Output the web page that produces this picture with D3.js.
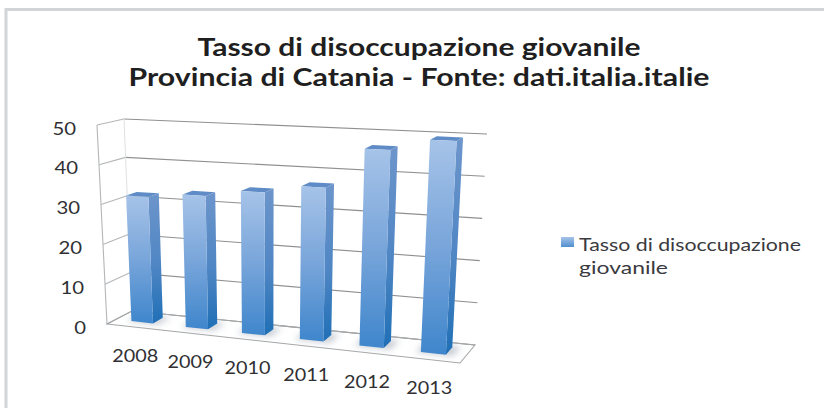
<!DOCTYPE html>
<html>
<head>
<meta charset="utf-8">
<script src="https://cdnjs.cloudflare.com/ajax/libs/d3/7.8.5/d3.min.js"></script>
<style>
html,body{margin:0;padding:0;background:#fff;overflow:hidden}
text{font-family:Lato,"Open Sans",sans-serif}
</style>
</head>
<body>
<svg id="chart" width="824" height="408"></svg>
<script>
// Youth unemployment rate, province of Catania
const years = ["2008","2009","2010","2011","2012","2013"];
const rates = [31.8,33,34.8,36.9,46.7,49.5];
const valueTicks = [0,10,20,30,40,50];
const titleLines = ["Tasso di disoccupazione giovanile","Provincia di Catania - Fonte: dati.italia.italie"];
const legendLines = ["Tasso di disoccupazione","giovanile"];

const svg = d3.select("#chart");

// The four vertical edges of the 3D plot box, each a value -> pixel scale
const edge = (x0,x1,y0,y1) => ({
  x: d3.scaleLinear().domain([0,50]).range([x0,x1]),
  y: d3.scaleLinear().domain([0,50]).range([y0,y1])
});
const frontLeft  = edge(107,97,324,125);
const backLeft   = edge(132,124,311,119);
const backRight  = edge(475,487,345,134);
const frontRight = edge(460,472,363,143);

// u runs along the categories, d runs from front to back, v is the value.
// Categories spread out toward the right, as they come nearer to the viewer.
function project(u,d,v){
  const mix = (a,b,t) => a+(b-a)*t;
  const w = u-0.09*u*(1-u);
  const fx = mix(frontLeft.x(v),frontRight.x(v),w), fy = mix(frontLeft.y(v),frontRight.y(v),w);
  const bx = mix(backLeft.x(v),backRight.x(v),w),  by = mix(backLeft.y(v),backRight.y(v),w);
  return [mix(fx,bx,d),mix(fy,by,d)];
}
const band = d3.scaleBand().domain(years).range([-0.001,0.999]).paddingInner(0.6).paddingOuter(0.3);
const depthFront = 0.35, depthBack = 0.76;
const line = d3.line();
const poly = pts => line(pts)+"Z";

// Gradients and the soft floor shadow
const defs = svg.append("defs");
function gradient(id,stops,x2,y2){
  const g = defs.append("linearGradient").attr("id",id)
    .attr("x1",0).attr("y1",0).attr("x2",x2).attr("y2",y2);
  stops.forEach(([o,c]) => g.append("stop").attr("offset",o).attr("stop-color",c));
}
gradient("frontFill",[[0,"#a6c3e8"],[0.5,"#78a5da"],[1,"#3f86cc"]],0,1);
gradient("sideFill",[[0,"#6d95cb"],[0.55,"#4f86c4"],[1,"#1f6fb6"]],0,1);
gradient("legendFill",[[0,"#a6c3e8"],[1,"#4f8fd0"]],0,1);
defs.append("filter").attr("id","floorShadow")
  .attr("x","-50%").attr("y","-50%").attr("width","200%").attr("height","200%")
  .append("feGaussianBlur").attr("stdDeviation",3);

// Frame of the chart area
svg.append("path").attr("d",line([[6,408],[6,9.5],[824,9.5]]))
  .attr("fill","none").attr("stroke","#d2d4d8").attr("stroke-width",3);

// Title
const titleWidths = [443,581];
svg.append("g").selectAll("text").data(titleLines).join("text")
  .attr("x",419).attr("y",(d,i)=>55.5+i*30.5)
  .attr("text-anchor","middle").attr("font-size",25).attr("font-weight",700)
  .attr("textLength",(d,i)=>titleWidths[i]).attr("lengthAdjust","spacingAndGlyphs")
  .attr("fill","#1f1f22").text(d=>d);

// Walls and floor
const grid = svg.append("g").attr("fill","none");
grid.selectAll("path.back").data(valueTicks).join("path").attr("class","back")
  .attr("d",v=>line([project(0,1,v),project(1,1,v)]))
  .attr("stroke","#8e9092").attr("stroke-width",1.1);
grid.selectAll("path.side").data(valueTicks).join("path").attr("class","side")
  .attr("d",v=>line([project(0,0,v),project(0,1,v)]))
  .attr("stroke","#b4b6b8").attr("stroke-width",1.1);
grid.append("path").attr("d",line([project(0,0,0),project(0,0,50)]))
  .attr("stroke","#b4b6b8").attr("stroke-width",1.1);
grid.append("path").attr("d",line([project(0,1,0),project(0,1,50)]))
  .attr("stroke","#dfe0e1").attr("stroke-width",1);
grid.append("path").attr("d",poly([project(0,0,0),project(1,0,0),project(1,1,0),project(0,1,0)]))
  .attr("stroke","#a4a6a8").attr("stroke-width",1.1);

// Bars: shadow, top, side, front
const bars = svg.append("g").selectAll("g").data(years.map((y,i)=>({y,v:rates[i]}))).join("g");
const corners = d => ({u0:band(d.y),u1:band(d.y)+band.bandwidth()});
bars.append("path")
  .attr("d",d=>{const {u0,u1}=corners(d);return poly([
    project(u0-0.012,depthFront-0.05,0),project(u1+0.02,depthFront-0.05,0),
    project(u1+0.02,depthBack+0.08,0),project(u0-0.012,depthBack+0.08,0)]);})
  .attr("fill","#c9ced4").attr("filter","url(#floorShadow)");
bars.append("path")
  .attr("d",d=>{const {u0,u1}=corners(d);return poly([
    project(u0,depthFront,d.v),project(u1,depthFront,d.v),project(u1,depthBack,d.v),project(u0,depthBack,d.v)]);})
  .attr("fill","#5f8cc6");
bars.append("path")
  .attr("d",d=>{const {u1}=corners(d);return poly([
    project(u1,depthFront,d.v),project(u1,depthBack,d.v),project(u1,depthBack,0),project(u1,depthFront,0)]);})
  .attr("fill","url(#sideFill)");
bars.append("path")
  .attr("d",d=>{const {u0,u1}=corners(d);return poly([
    project(u0,depthFront,d.v),project(u1,depthFront,d.v),project(u1,depthFront,0),project(u0,depthFront,0)]);})
  .attr("fill","url(#frontFill)");

// Value axis labels
svg.append("g").selectAll("text").data(valueTicks).join("text")
  .attr("x",v=>frontLeft.x(v)-21).attr("y",v=>frontLeft.y(v)+9.5)
  .attr("text-anchor","end").attr("font-size",17).attr("fill","#303033")
  .attr("textLength",d=>String(d).length*11.8).attr("lengthAdjust","spacingAndGlyphs")
  .text(d=>d);

// Category labels step down along the front edge of the floor
svg.append("g").selectAll("text").data(years).join("text")
  .attr("x",y=>project(band(y)+band.bandwidth()/2,0,0)[0]+1.5)
  .attr("y",y=>project(band(y)+band.bandwidth()/2,0,0)[1]+35)
  .attr("text-anchor","middle").attr("font-size",17).attr("fill","#303033")
  .attr("textLength",46).attr("lengthAdjust","spacingAndGlyphs")
  .text(d=>d);

// Legend
const legendWidths = [222,89];
svg.append("rect").attr("x",561).attr("y",237).attr("width",13).attr("height",10).attr("fill","url(#legendFill)");
svg.append("g").selectAll("text").data(legendLines).join("text")
  .attr("x",579).attr("y",(d,i)=>251+i*23)
  .attr("font-size",17).attr("fill","#3a3a40")
  .attr("textLength",(d,i)=>legendWidths[i]).attr("lengthAdjust","spacingAndGlyphs")
  .text(d=>d);
</script>
</body>
</html>
